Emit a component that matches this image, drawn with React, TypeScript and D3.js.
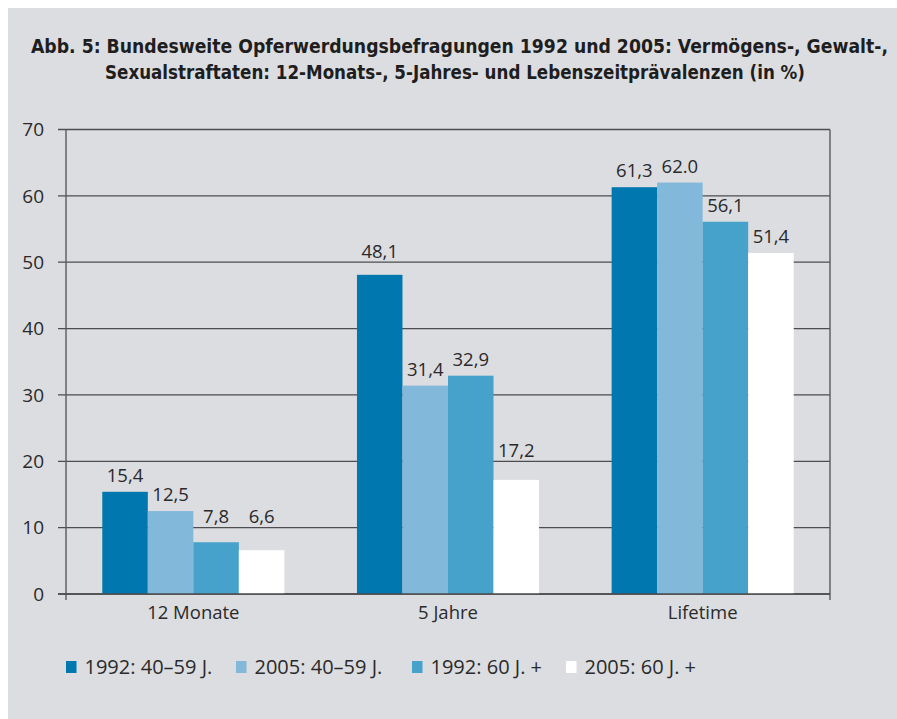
import React from "react";
import * as d3 from "d3";

const categories = ["12 Monate", "5 Jahre", "Lifetime"];
const seriesNames = ["1992: 40–59 J.", "2005: 40–59 J.", "1992: 60 J. +", "2005: 60 J. +"];
const seriesColors = ["#0077ae", "#82b8da", "#46a2cb", "#ffffff"];
const s1992a = [15.4, 48.1, 61.3];
const s2005a = [12.5, 31.4, 62.0];
const s1992b = [7.8, 32.9, 56.1];
const s2005b = [6.6, 17.2, 51.4];
const valueLabels = [
  ["15,4", "48,1", "61,3"],
  ["12,5", "31,4", "62.0"],
  ["7,8", "32,9", "56,1"],
  ["6,6", "17,2", "51,4"],
];
const yTicks = [0, 10, 20, 30, 40, 50, 60, 70];
const titleLines = [
  "Abb. 5: Bundesweite Opferwerdungsbefragungen 1992 und 2005: Vermögens-, Gewalt-,",
  "Sexualstraftaten: 12-Monats-, 5-Jahres- und Lebenszeitprävalenzen (in %)",
];

const W = 897;
const H = 719;
const left = 66;
const right = 830;
const top = 129.5;
const bottom = 594;
const font = "'Open Sans', sans-serif";
const titleFont = "'Liberation Sans Narrow', 'DejaVu Sans Condensed', sans-serif";

export default function App() {
  const series = [s1992a, s2005a, s1992b, s2005b];
  const y = d3.scaleLinear().domain([0, 70]).range([bottom, top]);
  const x0 = d3.scaleBand<string>().domain(categories).range([left, right]).paddingInner(0.285).paddingOuter(0.1425);
  const x1 = d3.scaleBand<number>().domain([0, 1, 2, 3]).range([0, x0.bandwidth()]);

  const labelBaseline = (v: number) => {
    let b = y(v) - 10;
    const capTop = b - 13;
    for (const t of yTicks) {
      const g = y(t);
      if (g >= capTop && g <= b) b = g - 4.5;
    }
    return b;
  };

  return (
    <svg width={W} height={H} style={{ position: "fixed", left: 0, top: 0, display: "block" }}>
      <rect x={0} y={0} width={W} height={H} fill="#ffffff" />
      <rect x={8} y={8} width={W - 8} height={H - 8} fill="#dcdde0" />
      <text x={31} y={53} fontFamily={titleFont} fontWeight="bold" fontSize={19} fill="#1e1e1e" textLength={857} lengthAdjust="spacingAndGlyphs">
        {titleLines[0]}
      </text>
      <text x={105} y={79} fontFamily={titleFont} fontWeight="bold" fontSize={19} fill="#1e1e1e" textLength={700} lengthAdjust="spacingAndGlyphs">
        {titleLines[1]}
      </text>

      {yTicks.map((t) => (
        <g key={t}>
          <line x1={58} x2={right} y1={y(t)} y2={y(t)} stroke="#4d4d4f" strokeWidth={1.3} />
          <text x={44} y={y(t)} dy="0.35em" textAnchor="end" fontFamily={font} fontSize={19} fill="#2a2a2a">
            {t}
          </text>
        </g>
      ))}

      {categories.map((c, ci) => (
        <g key={c} transform={`translate(${x0(c)},0)`}>
          {series.map((s, si) => (
            <rect key={si} x={x1(si)} y={y(s[ci])} width={x1.bandwidth()} height={y(0) - y(s[ci])} fill={seriesColors[si]} />
          ))}
          {series.map((s, si) => (
            <text key={"l" + si} x={(x1(si) as number) + x1.bandwidth() / 2} y={labelBaseline(s[ci])} textAnchor="middle" fontFamily={font} fontSize={18.5} fill="#2a2a2a">
              {valueLabels[si][ci]}
            </text>
          ))}
          <text x={x0.bandwidth() / 2} y={619} textAnchor="middle" fontFamily={font} fontSize={18.5} fill="#2a2a2a">
            {c}
          </text>
        </g>
      ))}

      <line x1={left} x2={left} y1={top} y2={600} stroke="#5a5a5c" strokeWidth={1.4} />
      <line x1={right} x2={right} y1={top} y2={600} stroke="#5a5a5c" strokeWidth={1.4} />
      <line x1={58} x2={right} y1={bottom} y2={bottom} stroke="#4d4d4f" strokeWidth={1.4} />

      {seriesNames.map((n, i) => {
        const lx = [66, 236, 412, 566][i];
        return (
          <g key={n}>
            <rect x={lx} y={661} width={10.5} height={12} fill={seriesColors[i]} />
            <text x={lx + 18.5} y={667} dy="0.35em" fontFamily={font} fontSize={20} fill="#2a2a2a">
              {n}
            </text>
          </g>
        );
      })}
    </svg>
  );
}
